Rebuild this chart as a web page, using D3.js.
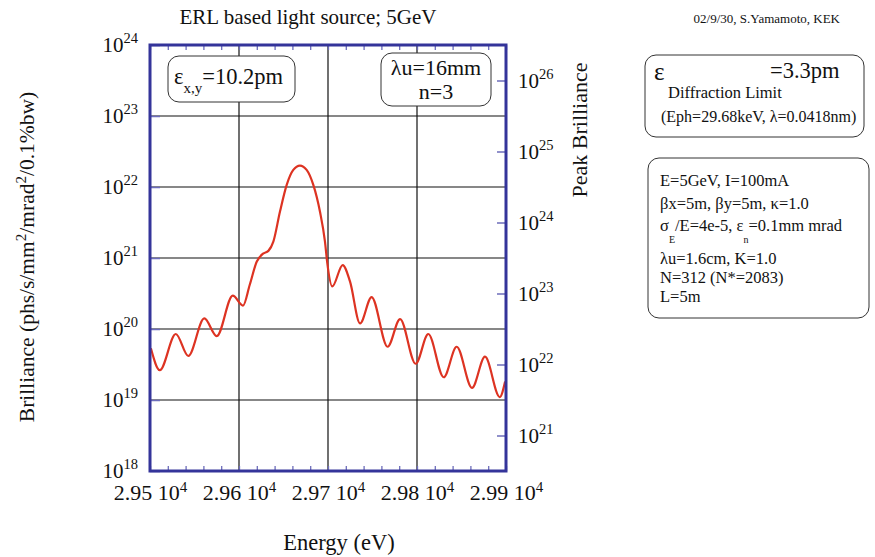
<!DOCTYPE html>
<html>
<head>
<meta charset="utf-8">
<script src="https://cdn.jsdelivr.net/npm/d3@7"></script>
<style>
  html, body { margin: 0; padding: 0; background: #fff; }
  svg { display: block; }
  svg text { font-family: "Liberation Serif", "DejaVu Serif", serif; }
</style>
</head>
<body>
<svg id="chart" width="875" height="557"></svg>
<script>
// ---------------- data ----------------
const energy = [29501, 29511, 29529, 29543, 29561, 29575, 29593, 29604.5, 29612, 29620,
  29627, 29633, 29638.6, 29646, 29653.6, 29661, 29668.5, 29676, 29683.5, 29691,
  29696.6, 29699, 29704.8, 29716.5, 29724.7, 29736, 29749, 29767, 29781, 29798.5,
  29812.7, 29830, 29844.6, 29861.8, 29876.4, 29893, 29899];
const brilliance = [5.37e19, 2.63e19, 8.51e19, 4.17e19, 1.41e20, 7.94e19, 2.95e20, 2.14e20, 4.17e20, 8.91e20,
  1.15e21, 1.26e21, 1.70e21, 4.47e21, 1.07e22, 1.74e22, 2.0e22, 1.74e22, 1.07e22, 4.47e21,
  1.70e21, 8.91e20, 3.98e20, 7.94e20, 4.68e20, 1.20e20, 2.82e20, 5.62e19, 1.38e20, 3.24e19,
  8.51e19, 2.09e19, 5.62e19, 1.48e19, 4.07e19, 1.10e19, 1.82e19];

const xTickValues = [29500, 29600, 29700, 29800, 29900];
const xTickMantissa = ["2.95", "2.96", "2.97", "2.98", "2.99"];
const xTickExp = "4";
const leftTickExps = [18, 19, 20, 21, 22, 23, 24];
const rightTickExps = [21, 22, 23, 24, 25, 26];
const xDomain = [29500, 29900];
const leftDomain = [1e18, 1e24];
const rightDomain = [Math.pow(10, 20.5), Math.pow(10, 26.5)];
const minorStep = 20;

const title = "ERL based light source; 5GeV";
const credit = "02/9/30, S.Yamamoto, KEK";
const xTitle = "Energy (eV)";
const rightTitle = "Peak Brilliance";
const paramLines = ["E=5GeV, I=100mA", "\u03b2x=5m, \u03b2y=5m, \u03ba=1.0", null,
  "\u03bbu=1.6cm, K=1.0", "N=312 (N*=2083)", "L=5m"];

// ---------------- layout ----------------
const FONT = "Liberation Serif, DejaVu Serif, serif";
const L = 150, R = 506, T = 45, B = 471;
const frameColor = "#34349a";
const tickColor = "#6d6dba";
const svg = d3.select("#chart");

const x = d3.scaleLinear().domain(xDomain).range([L, R]);
const y = d3.scaleLog().domain(leftDomain).range([B, T]);
const yR = d3.scaleLog().domain(rightDomain).range([B, T]);

function txt(xp, yp, size, s, anchor) {
  return svg.append("text").attr("x", xp).attr("y", yp).attr("font-size", size)
    .attr("font-family", FONT).attr("fill", "#111").attr("text-anchor", anchor || "start").text(s || null);
}

// grid
const gridG = svg.append("g");
gridG.selectAll("line.h").data(leftTickExps.slice(1, -1)).join("line")
  .attr("x1", L).attr("x2", R)
  .attr("y1", d => y(Math.pow(10, d))).attr("y2", d => y(Math.pow(10, d)))
  .attr("stroke", "#111").attr("stroke-width", 1.2);
gridG.selectAll("line.v").data(xTickValues.slice(1, -1)).join("line")
  .attr("y1", T).attr("y2", B)
  .attr("x1", d => x(d)).attr("x2", d => x(d))
  .attr("stroke", "#111").attr("stroke-width", 1.2);

// minor ticks top / bottom
const minors = d3.range(xDomain[0], xDomain[1] + 1, minorStep);
const botAx = svg.append("g").attr("transform", `translate(0,${B})`)
  .call(d3.axisBottom(x).tickValues(minors).tickSize(-5).tickFormat(""));
const topAx = svg.append("g").attr("transform", `translate(0,${T})`)
  .call(d3.axisTop(x).tickValues(minors).tickSize(-5).tickFormat(""));
[botAx, topAx].forEach(g => {
  g.select(".domain").remove();
  g.selectAll(".tick line").attr("stroke", tickColor).attr("stroke-width", 1.3);
});

function supLabel(sel, size, supSize, shift, base, exp) {
  sel.attr("font-size", size).attr("fill", "#111").attr("font-family", FONT);
  sel.append("tspan").text(base);
  sel.append("tspan").attr("font-size", supSize).attr("dy", -shift).text(exp);
}

// left axis
const leftAx = svg.append("g").attr("transform", `translate(${L},0)`)
  .call(d3.axisLeft(y).tickValues(leftTickExps.map(e => Math.pow(10, e)))
    .tickSize(-10).tickPadding(12).tickFormat(""));
leftAx.select(".domain").remove();
leftAx.selectAll(".tick line").attr("stroke", tickColor).attr("stroke-width", 1.5);
leftAx.selectAll(".tick text").attr("dy", "0.33em").each(function(d) {
  supLabel(d3.select(this), 21, 14.5, 9, "10", Math.round(Math.log10(d)));
});

// right axis
const rightAx = svg.append("g").attr("transform", `translate(${R},0)`)
  .call(d3.axisRight(yR).tickValues(rightTickExps.map(e => Math.pow(10, e)))
    .tickSize(-9).tickPadding(12).tickFormat(""));
rightAx.select(".domain").remove();
rightAx.selectAll(".tick line").attr("stroke", tickColor).attr("stroke-width", 1.5);
rightAx.selectAll(".tick text").attr("dy", "0.33em").each(function(d) {
  supLabel(d3.select(this), 21, 14.5, 9, "10", Math.round(Math.log10(d)));
});

// x tick labels
const xLab = svg.append("g").attr("transform", `translate(0,${B})`)
  .call(d3.axisBottom(x).tickValues(xTickValues).tickSize(0).tickPadding(0).tickFormat(""));
xLab.select(".domain").remove();
xLab.selectAll(".tick text").attr("y", 29).attr("dy", 0).attr("text-anchor", "middle")
  .each(function(d, i) {
    supLabel(d3.select(this), 22, 15, 8, xTickMantissa[i] + " 10", xTickExp);
  });

// curve
svg.append("clipPath").attr("id", "clip").append("rect")
  .attr("x", L).attr("y", T).attr("width", R - L).attr("height", B - T);
const pts = energy.map((e, i) => [e, brilliance[i]]);
svg.append("path").datum(pts)
  .attr("clip-path", "url(#clip)")
  .attr("fill", "none").attr("stroke", "#dd3322").attr("stroke-width", 2.2)
  .attr("d", d3.line().x(d => x(d[0])).y(d => y(d[1])).curve(d3.curveMonotoneX));

// frame
svg.append("rect").attr("x", L).attr("y", T).attr("width", R - L).attr("height", B - T)
  .attr("fill", "none").attr("stroke", frameColor).attr("stroke-width", 3);

// titles
txt(308, 24, 21, title, "middle");
txt(840, 23, 13, credit, "end");
txt(339, 550, 22.5, xTitle, "middle");
txt(0, 0, 22, rightTitle, "middle").attr("transform", "translate(587,130) rotate(-90)");
const yt = txt(0, 0, 21.5, null, "middle").attr("transform", "translate(34,257) rotate(-90)");
yt.append("tspan").text("Brilliance (phs/s/mm");
yt.append("tspan").attr("font-size", 15).attr("dy", -8).text("2");
yt.append("tspan").attr("dy", 8).text("/mrad");
yt.append("tspan").attr("font-size", 15).attr("dy", -8).text("2");
yt.append("tspan").attr("dy", 8).text("/0.1%bw)");

// boxes
function box(x0, y0, w, h) {
  svg.append("rect").attr("x", x0).attr("y", y0).attr("width", w).attr("height", h)
    .attr("rx", 11).attr("ry", 11).attr("fill", "#fff").attr("stroke", "#333").attr("stroke-width", 1);
}
box(168, 56, 127, 46);
const t1 = txt(174, 84, 22.5);
t1.append("tspan").text("\u03b5");
t1.append("tspan").attr("font-size", 15).attr("dy", 9).text("x,y");
t1.append("tspan").attr("dy", -9).text("=10.2pm");

box(381, 53, 110, 53);
txt(436, 75, 22, "\u03bbu=16mm", "middle");
txt(436, 99, 22, "n=3", "middle");

box(645, 55, 219, 82);
txt(654, 80, 25, "\u03b5");
txt(668, 98, 16.5, "Diffraction Limit");
txt(770, 78, 22.5, "=3.3pm");
txt(661, 122, 16, "(Eph=29.68keV, \u03bb=0.0418nm)");

box(648, 158, 221, 160);
const lineY = [186, 209, 231, 264, 283, 302];
paramLines.forEach((s, i) => {
  const t = txt(660, lineY[i], 16.5);
  if (s !== null) { t.text(s); return; }
  t.append("tspan").text("\u03c3");
  t.append("tspan").attr("font-size", 10).attr("dy", 12).text("E");
  t.append("tspan").attr("dy", -12).text("/E=4e-5, \u03b5");
  t.append("tspan").attr("font-size", 10).attr("dy", 12).text("n");
  t.append("tspan").attr("dy", -12).text("=0.1mm mrad");
});
</script>
</body>
</html>
